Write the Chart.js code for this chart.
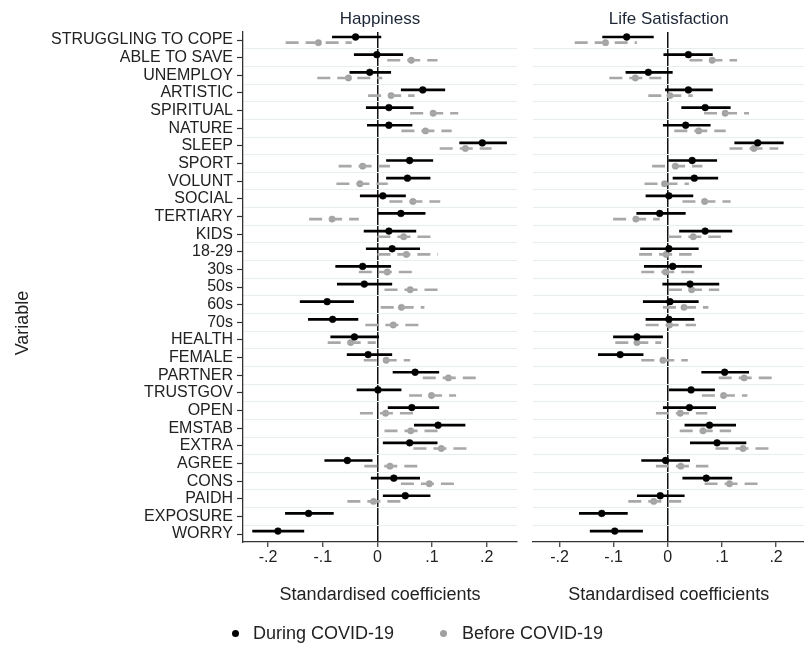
<!DOCTYPE html>
<html>
<head>
<meta charset="utf-8">
<script src="https://cdn.jsdelivr.net/npm/chart.js@4.4.1/dist/chart.umd.min.js"></script>
<style>
  body { margin: 0; background: #fff; overflow: hidden; width: 804px; height: 646px; position: relative;
         font-family: 'Liberation Sans', Arial, sans-serif; }
  #happy { position: absolute; left: 0; top: 0; }
  #life { position: absolute; left: 525px; top: 0; }
  .lg { position: absolute; top: 623px; line-height: 20px; font-size: 18px; color: #222; white-space: nowrap; }
  .dot { position: absolute; width: 7px; height: 7px; border-radius: 50%; top: 629.5px; }
</style>
</head>
<body>
<canvas id="happy" width="525" height="646"></canvas>
<canvas id="life" width="284" height="646"></canvas>
<span class="dot" style="left:231.5px;background:#000"></span>
<span class="lg" style="left:253px">During COVID-19</span>
<span class="dot" style="left:439.5px;background:#a0a0a0"></span>
<span class="lg" style="left:462px">Before COVID-19</span>
<script>
// coefficient plot: happiness and life satisfaction, during vs before COVID-19

const variables = ['STRUGGLING TO COPE', 'ABLE TO SAVE', 'UNEMPLOY', 'ARTISTIC', 'SPIRITUAL', 'NATURE',
  'SLEEP', 'SPORT', 'VOLUNT', 'SOCIAL', 'TERTIARY', 'KIDS', '18-29', '30s', '50s', '60s', '70s',
  'HEALTH', 'FEMALE', 'PARTNER', 'TRUSTGOV', 'OPEN', 'EMSTAB', 'EXTRA', 'AGREE', 'CONS', 'PAIDH',
  'EXPOSURE', 'WORRY'];

const xTicks = [-0.2, -0.1, 0, 0.1, 0.2];
const xTickLabels = ['-.2', '-.1', '0', '.1', '.2'];

// Happiness - during COVID-19
const happyDuring = [-0.040, -0.001, -0.014, 0.083, 0.021, 0.021, 0.192, 0.059, 0.055, 0.010, 0.043, 0.021,
  0.027, -0.027, -0.024, -0.092, -0.082, -0.042, -0.017, 0.069, 0.001, 0.063, 0.111, 0.059, -0.055, 0.030,
  0.051, -0.126, -0.182];
const happyDuringLo = [-0.083, -0.043, -0.051, 0.043, -0.021, -0.019, 0.150, 0.016, 0.016, -0.032, 0.001, -0.025,
  -0.021, -0.077, -0.074, -0.142, -0.127, -0.086, -0.056, 0.028, -0.038, 0.019, 0.067, 0.010, -0.097, -0.012,
  0.010, -0.169, -0.229];
const happyDuringHi = [0.007, 0.047, 0.025, 0.124, 0.066, 0.064, 0.237, 0.102, 0.097, 0.052, 0.088, 0.071,
  0.078, 0.025, 0.027, -0.043, -0.035, 0.003, 0.027, 0.113, 0.044, 0.113, 0.161, 0.110, -0.009, 0.078,
  0.097, -0.080, -0.134];

// Happiness - before COVID-19
const happyBefore = [-0.108, 0.062, -0.053, 0.025, 0.102, 0.088, 0.161, -0.027, -0.032, 0.065, -0.083, 0.048,
  0.053, 0.018, 0.060, 0.044, 0.029, -0.049, 0.016, 0.130, 0.099, 0.015, 0.061, 0.117, 0.023, 0.095,
  -0.007, null, null];
const happyBeforeLo = [-0.168, 0.018, -0.110, -0.017, 0.060, 0.044, 0.114, -0.071, -0.075, 0.022, -0.125, 0.000,
  0.000, -0.034, 0.013, 0.006, -0.022, -0.091, -0.025, 0.083, 0.058, -0.032, 0.013, 0.066, -0.024, 0.043,
  -0.055, null, null];
const happyBeforeHi = [-0.047, 0.110, 0.009, 0.068, 0.148, 0.136, 0.209, 0.023, 0.019, 0.115, -0.034, 0.100,
  0.111, 0.066, 0.111, 0.086, 0.078, -0.003, 0.060, 0.181, 0.144, 0.066, 0.111, 0.167, 0.075, 0.142,
  0.043, null, null];

// Life satisfaction - during COVID-19
const lifeDuring = [-0.076, 0.038, -0.036, 0.038, 0.069, 0.033, 0.166, 0.045, 0.049, 0.002, -0.015, 0.069,
  0.002, 0.009, 0.041, 0.004, 0.002, -0.057, -0.088, 0.105, 0.043, 0.040, 0.077, 0.091, -0.004, 0.071,
  -0.014, -0.122, -0.098];
const lifeDuringLo = [-0.121, -0.008, -0.078, -0.005, 0.025, -0.009, 0.123, 0.001, 0.009, -0.041, -0.058, 0.021,
  -0.051, -0.044, -0.010, -0.046, -0.041, -0.101, -0.129, 0.062, 0.002, -0.009, 0.031, 0.041, -0.049, 0.027,
  -0.057, -0.164, -0.144];
const lifeDuringHi = [-0.026, 0.083, 0.009, 0.083, 0.116, 0.079, 0.214, 0.091, 0.093, 0.047, 0.033, 0.119,
  0.057, 0.063, 0.095, 0.057, 0.049, -0.009, -0.045, 0.150, 0.087, 0.089, 0.126, 0.145, 0.041, 0.119,
  0.031, -0.074, -0.046];

// Life satisfaction - before COVID-19
const lifeBefore = [-0.115, 0.082, -0.060, 0.004, 0.106, 0.057, 0.159, 0.014, -0.006, 0.068, -0.059, 0.047,
  -0.003, -0.004, 0.044, 0.030, 0.003, -0.057, -0.009, 0.141, 0.103, 0.023, 0.065, 0.139, 0.024, 0.114,
  -0.026, null, null];
const lifeBeforeLo = [-0.172, 0.040, -0.108, -0.036, 0.067, 0.012, 0.114, -0.029, -0.043, 0.027, -0.101, 0.001,
  -0.053, -0.049, 0.002, -0.009, -0.041, -0.097, -0.049, 0.094, 0.063, -0.022, 0.022, 0.088, -0.022, 0.068,
  -0.073, null, null];
const lifeBeforeHi = [-0.057, 0.128, -0.012, 0.046, 0.150, 0.107, 0.204, 0.064, 0.039, 0.116, -0.015, 0.098,
  0.044, 0.049, 0.095, 0.075, 0.052, -0.012, 0.037, 0.192, 0.147, 0.073, 0.117, 0.189, 0.075, 0.166,
  0.025, null, null];

Chart.defaults.font.family = "'Liberation Sans', Arial, sans-serif";
Chart.defaults.color = '#222';

const yMin = 0.546, yMax = 29.45;
const shiftDuring = -0.17, shiftBefore = 0.15;

// CI segments, one per row, broken by null points
function ciLine(lo, hi, shift) {
  const pts = [];
  lo.forEach((v, i) => {
    if (v === null) return;
    pts.push({ x: v, y: i + 1 + shift }, { x: hi[i], y: i + 1 + shift }, { x: null, y: null });
  });
  return pts;
}

function dots(vals, shift) {
  return vals.map((v, i) => ({ x: v, y: v === null ? null : i + 1 + shift }));
}

function crearPanel(id, titulo, during, dLo, dHi, before, bLo, bHi, conEtiquetas, xMin, xMax) {
  const ctx = document.getElementById(id).getContext('2d');
  return new Chart(ctx, {
    type: 'scatter',
    data: {
      datasets: [
        { label: 'During CI', data: ciLine(dLo, dHi, shiftDuring), showLine: true, borderColor: '#000',
          borderWidth: 2.7, borderCapStyle: 'butt', pointRadius: 0, pointHitRadius: 0 },
        { label: 'During COVID-19', data: dots(during, shiftDuring), showLine: false, pointRadius: 3.4,
          pointBackgroundColor: '#000', pointBorderColor: '#000', pointBorderWidth: 0.5 },
        { label: 'Before CI', data: ciLine(bLo, bHi, shiftBefore), showLine: true, borderColor: '#a8a8a8',
          borderWidth: 2.6, borderDash: [13, 7], borderCapStyle: 'butt', pointRadius: 0, pointHitRadius: 0 },
        { label: 'Before COVID-19', data: dots(before, shiftBefore), showLine: false, pointRadius: 3.2,
          pointBackgroundColor: '#a0a0a0', pointBorderColor: '#a0a0a0', pointBorderWidth: 0.5 }
      ]
    },
    options: {
      responsive: false,
      animation: false,
      events: [],
      layout: { padding: conEtiquetas ? { left: 0, right: 8, top: 0, bottom: 0 } : { left: 8, right: 0, top: 0, bottom: 0 } },
      plugins: {
        legend: { display: false },
        tooltip: { enabled: false },
        title: { display: true, text: titulo, fullSize: false, color: '#1c2636',
                 font: { size: 17, weight: 'normal' }, padding: { top: 9, bottom: 2.6 } },
        subtitle: { display: conEtiquetas, text: 'Variable', position: 'left', fullSize: true, color: '#222',
                    font: { size: 18, weight: 'normal' }, padding: { top: 12.7, bottom: 0 } }
      },
      scales: {
        x: {
          type: 'linear', min: xMin, max: xMax,
          afterBuildTicks: s => { s.ticks = xTicks.map(v => ({ value: v })); },
          afterFit: s => { s.height = 104; },
          ticks: { font: { size: 16 }, padding: 1, color: '#222', maxRotation: 0,
                   callback: (v, i) => xTickLabels[i] },
          grid: {
            color: c => (c.tick && c.tick.value === 0) ? '#111' : 'rgba(0,0,0,0)',
            lineWidth: 1.5, tickColor: '#333', tickLength: 5, tickWidth: 1.2
          },
          border: { color: '#333', width: 1.3 },
          title: { display: true, text: 'Standardised coefficients', color: '#222', font: { size: 18 },
                   padding: { top: 0, bottom: 40.2 } }
        },
        y: {
          type: 'linear', reverse: true, min: yMin, max: yMax, display: conEtiquetas,
          afterBuildTicks: s => { s.ticks = variables.map((v, i) => ({ value: i + 1 })); },
          afterFit: s => { s.width = conEtiquetas ? 208.7 : 0; },
          ticks: { autoSkip: false, padding: 4, color: '#222', font: { size: 16 },
                   callback: (v, i) => variables[i] },
          grid: { drawOnChartArea: false, tickLength: 6, tickColor: '#333', tickWidth: 1.2 },
          border: { color: '#333', width: 1.3 }
        },
        g: {
          type: 'linear', position: 'right', reverse: true, min: yMin, max: yMax, z: -1,
          afterBuildTicks: s => { s.ticks = variables.slice(1).map((v, i) => ({ value: i + 1.5 })); },
          afterFit: s => { s.width = 0; },
          ticks: { display: false },
          grid: { color: '#e6eef0', lineWidth: 1, drawTicks: false },
          border: { display: false }
        }
      }
    }
  });
}

crearPanel('happy', 'Happiness', happyDuring, happyDuringLo, happyDuringHi,
  happyBefore, happyBeforeLo, happyBeforeHi, true, -0.246, 0.2555);
crearPanel('life', 'Life Satisfaction', lifeDuring, lifeDuringLo, lifeDuringHi,
  lifeBefore, lifeBeforeLo, lifeBeforeHi, false, -0.249, 0.2525);
</script>
</body>
</html>
